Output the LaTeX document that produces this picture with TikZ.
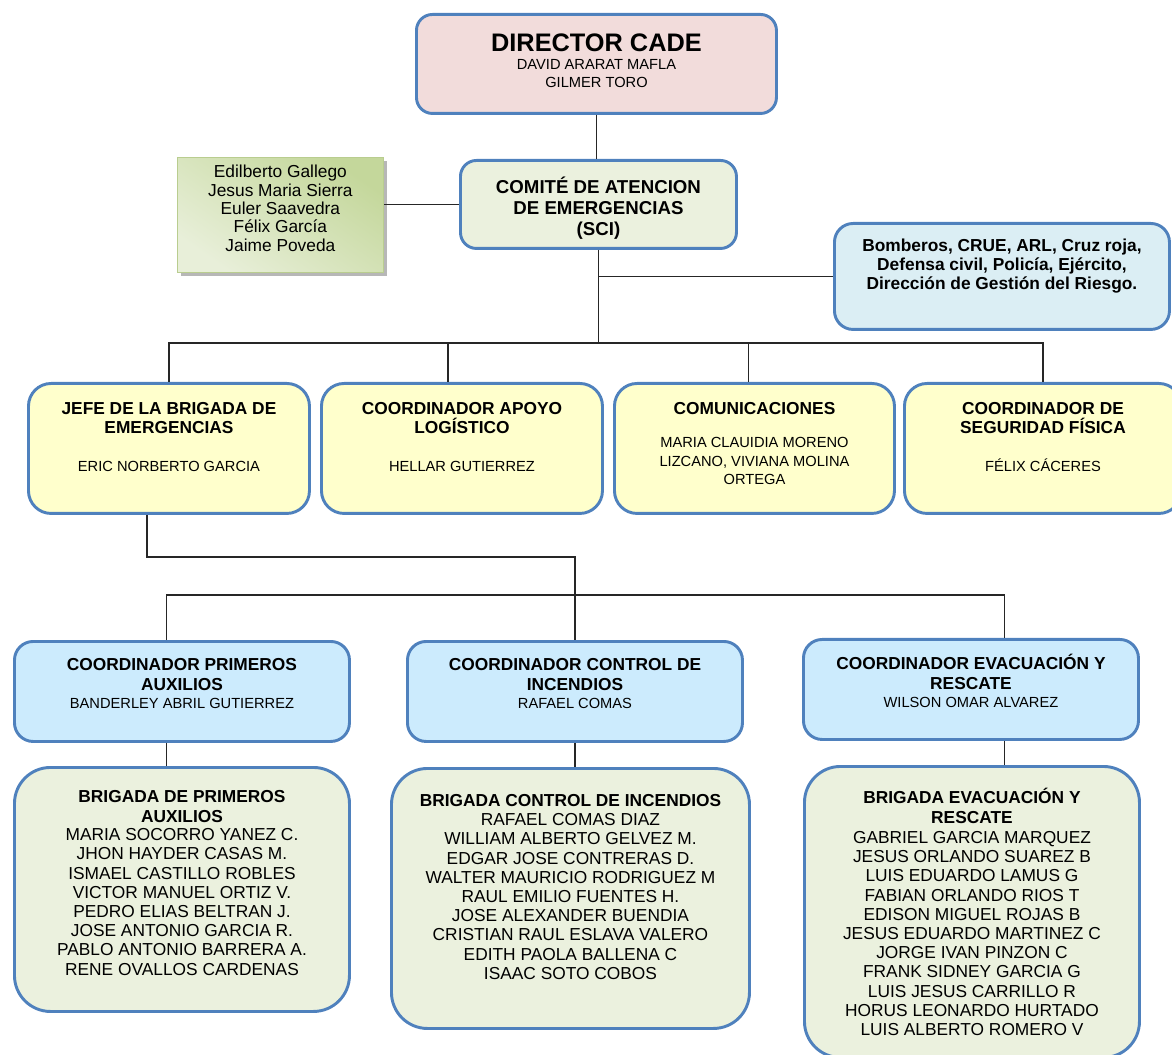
\documentclass[tikz,border=0pt]{standalone}
\usepackage{fontspec}
\setmainfont{Liberation Sans}
\usepackage{tikz}
\usepackage{xcolor}
\usetikzlibrary{shadows}

\newdimen\px
\px=0.75pt

\definecolor{frameblue}{HTML}{4F81BD}
\definecolor{headpink}{HTML}{F2DCDB}
\definecolor{paleolive}{HTML}{EBF1DE}
\definecolor{aidblue}{HTML}{DBEEF4}
\definecolor{leadyellow}{HTML}{FFFFCC}
\definecolor{coordblue}{HTML}{CCEBFD}
\definecolor{leafdark}{HTML}{C4D79B}
\definecolor{leaflight}{HTML}{E8EFD9}
\definecolor{leafedge}{HTML}{B9CD8F}

\newcommand{\boxbody}[4]{\begin{minipage}[c][#2\px][t]{#1\px}\centering\vspace*{#3\px}#4\end{minipage}}

\tikzset{
    org-box/.style = {draw=frameblue, line width=2.2pt, rectangle, rounded corners=12pt, inner sep=0pt, anchor=north west, text=black},
    head-box/.style = {org-box, fill=headpink},
    committee-box/.style = {org-box, fill=paleolive},
    support-box/.style = {org-box, fill=aidblue, rounded corners=14pt},
    lead-box/.style = {org-box, fill=leadyellow, rounded corners=17pt},
    coord-box/.style = {org-box, fill=coordblue, rounded corners=14pt},
    brigade-box/.style = {org-box, fill=paleolive, rounded corners=27pt},
    members-box/.style = {rectangle, draw=leafedge, line width=0.6pt, top color=leafdark, bottom color=leaflight, shading angle=-35, drop shadow={shadow xshift=2.5pt, shadow yshift=-2.5pt, fill=black!40, opacity=0.7}, inner sep=0pt, anchor=north west},
    org-line/.style = {draw=black!85, line width=1.2pt},
}

\begin{document}
\begin{tikzpicture}[x=0.75pt, y=-0.75pt]
\useasboundingbox (0,0) rectangle (1172,1055);

\node[head-box] (director) at (415,13) {\boxbody{360}{99}{19}{%
    {\fontsize{19}{22}\selectfont\bfseries DIRECTOR CADE\par}
    \fontsize{11}{13.5}\selectfont DAVID ARARAT MAFLA\\ GILMER TORO}};
\node[committee-box] (committee) at (459,159) {\boxbody{276}{88}{16}{%
    \fontsize{14}{15.75}\selectfont\bfseries COMITÉ DE ATENCION\\ DE EMERGENCIAS\\ (SCI)}};
\node[members-box] (members) at (177,157) {\boxbody{206}{115}{8}{%
    \fontsize{13}{13.75}\selectfont Edilberto Gallego\\ Jesus Maria Sierra\\ Euler Saavedra\\ Félix García\\ Jaime Poveda}};
\node[support-box] (support) at (833,222) {\boxbody{335}{106}{15}{%
    \fontsize{13}{14.6}\selectfont\bfseries Bomberos, CRUE, ARL, Cruz roja,\\ Defensa civil, Policía, Ejército,\\ Dirección de Gestión del Riesgo.}};

\node[lead-box] (chief) at (27,382) {\boxbody{281}{130}{19}{%
    {\fontsize{13}{14.25}\selectfont\bfseries JEFE DE LA BRIGADA DE\\ EMERGENCIAS\par}
    \vspace{14.6pt}
    \fontsize{11}{13.9}\selectfont ERIC NORBERTO GARCIA}};
\node[lead-box] (logistic) at (320,382) {\boxbody{281}{130}{19}{%
    {\fontsize{13}{14.25}\selectfont\bfseries COORDINADOR APOYO\\ LOGÍSTICO\par}
    \vspace{14.6pt}
    \fontsize{11}{13.9}\selectfont HELLAR GUTIERREZ}};
\node[lead-box] (comms) at (613,382) {\boxbody{280}{130}{19}{%
    {\fontsize{13}{14.25}\selectfont\bfseries COMUNICACIONES\par}
    \vspace{10.85pt}
    \fontsize{11}{13.9}\selectfont MARIA CLAUIDIA MORENO\\ LIZCANO, VIVIANA MOLINA\\ ORTEGA}};
\node[lead-box] (security) at (903,382) {\boxbody{277}{130}{19}{%
    {\fontsize{13}{14.25}\selectfont\bfseries COORDINADOR DE\\ SEGURIDAD FÍSICA\par}
    \vspace{14.6pt}
    \fontsize{11}{13.9}\selectfont FÉLIX CÁCERES}};

\node[coord-box] (firstaid) at (13,640) {\boxbody{335}{100}{17}{%
    {\fontsize{13}{15}\selectfont\bfseries COORDINADOR PRIMEROS\\ AUXILIOS\par}
    \fontsize{11}{13.5}\selectfont BANDERLEY ABRIL GUTIERREZ}};
\node[coord-box] (fire) at (406,640) {\boxbody{335}{100}{17}{%
    {\fontsize{13}{15}\selectfont\bfseries COORDINADOR CONTROL DE\\ INCENDIOS\par}
    \fontsize{11}{13.5}\selectfont RAFAEL COMAS}};
\node[coord-box] (evac) at (802,638) {\boxbody{335}{100}{15}{%
    {\fontsize{13}{15}\selectfont\bfseries COORDINADOR EVACUACIÓN Y\\ RESCATE\par}
    \fontsize{11}{13.5}\selectfont WILSON OMAR ALVAREZ}};

\node[brigade-box] (brigaid) at (13,766) {\boxbody{335}{244}{22.6}{%
    {\fontsize{13}{15}\selectfont\bfseries BRIGADA DE PRIMEROS\\ AUXILIOS\par}
    \vspace{-0.5pt}
    \fontsize{13}{14.4}\selectfont MARIA SOCORRO YANEZ C.\\ JHON HAYDER CASAS M.\\ ISMAEL CASTILLO ROBLES\\ VICTOR MANUEL ORTIZ V.\\ PEDRO ELIAS BELTRAN J.\\ JOSE ANTONIO GARCIA R.\\ PABLO ANTONIO BARRERA A.\\ RENE OVALLOS CARDENAS}};
\node[brigade-box] (brigfire) at (390,767) {\boxbody{358}{260}{25.6}{%
    {\fontsize{13}{15}\selectfont\bfseries BRIGADA CONTROL DE INCENDIOS\par}
    \vspace{0.3pt}
    \fontsize{13}{14.4}\selectfont RAFAEL COMAS DIAZ\\ WILLIAM ALBERTO GELVEZ M.\\ EDGAR JOSE CONTRERAS D.\\ WALTER MAURICIO RODRIGUEZ M\\ RAUL EMILIO FUENTES H.\\ JOSE ALEXANDER BUENDIA\\ CRISTIAN RAUL ESLAVA VALERO\\ EDITH PAOLA BALLENA C\\ ISAAC SOTO COBOS}};
\node[brigade-box] (brigevac) at (803,765) {\boxbody{335}{291}{22}{%
    {\fontsize{13}{15}\selectfont\bfseries BRIGADA EVACUACIÓN Y\\ RESCATE\par}
    \vspace{0.3pt}
    \fontsize{13}{14.4}\selectfont GABRIEL GARCIA MARQUEZ\\ JESUS ORLANDO SUAREZ B\\ LUIS EDUARDO LAMUS G\\ FABIAN ORLANDO RIOS T\\ EDISON MIGUEL ROJAS B\\ JESUS EDUARDO MARTINEZ C\\ JORGE IVAN PINZON C\\ FRANK SIDNEY GARCIA G\\ LUIS JESUS CARRILLO R\\ HORUS LEONARDO HURTADO\\ LUIS ALBERTO ROMERO V}};

\coordinate (bustop) at (0,343);
\coordinate (elbow) at (0,557);
\coordinate (buslow) at (0,595);
\coordinate (logdrop) at ([xshift=-10.5pt]logistic.north);
\coordinate (comdrop) at ([xshift=-4.5pt]comms.north);
\coordinate (chiefout) at ([xshift=-16.5pt]chief.south);
\coordinate (aiddrop) at ([xshift=-11.6pt]firstaid.north);
\coordinate (evacdrop) at ([xshift=25pt]evac.north);

\draw[org-line] (director.south) -- (director.south |- committee.north);
\draw[org-line] (committee.west) -- (committee.west -| members.east);
\draw[org-line] (committee.south) -- (committee.south |- bustop);
\draw[org-line] (support.west) -- (support.west -| committee.south);
\draw[org-line] (chief.north) -- (chief.north |- bustop) -- (security.north |- bustop) -- (security.north);
\draw[org-line] (logdrop) -- (logdrop |- bustop);
\draw[org-line] (comdrop) -- (comdrop |- bustop);
\draw[org-line] (chiefout) |- (elbow -| fire.north) -- (fire.north);
\draw[org-line] (aiddrop) |- (buslow -| evacdrop) -- (evacdrop);
\draw[org-line] (aiddrop |- firstaid.south) -- (aiddrop |- brigaid.north);
\draw[org-line] (fire.south) -- (fire.south |- brigfire.north);
\draw[org-line] (evacdrop |- evac.south) -- (evacdrop |- brigevac.north);
\end{tikzpicture}
\end{document}
